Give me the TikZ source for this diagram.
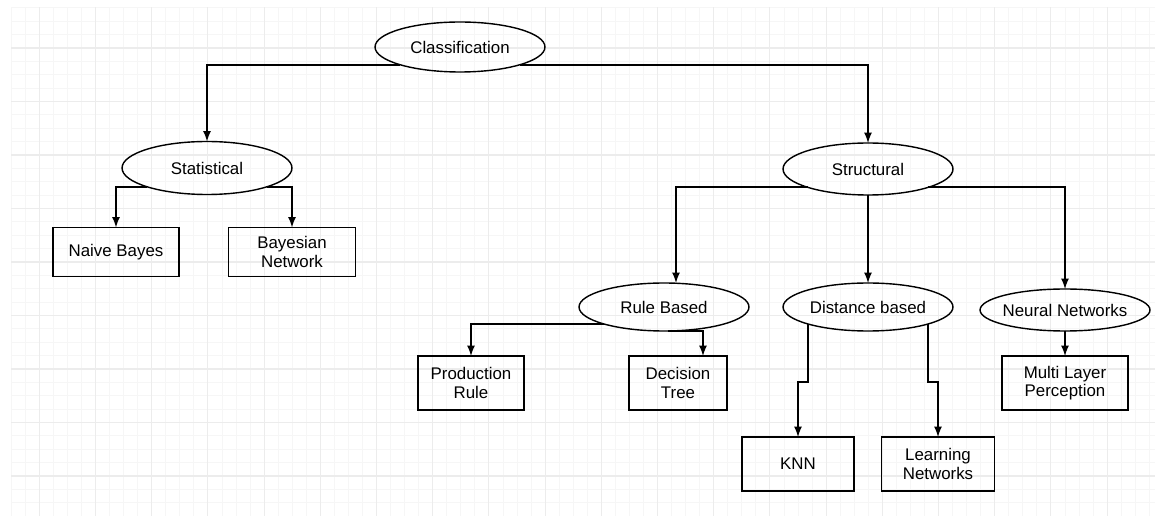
\documentclass[tikz,border=0pt]{standalone}
\usepackage{fontspec}
\setmainfont{Liberation Sans}
\usetikzlibrary{arrows,shapes.geometric}

\begin{document}
\begin{tikzpicture}[x=0.02cm,y=-0.02cm,
  every node/.style={font=\fontsize{9.6}{10.3}\selectfont,align=center,outer sep=0pt},
  oval/.style={ellipse,draw,line width=0.8pt,inner xsep=-5pt,inner ysep=0pt,minimum width=3.4cm,minimum height=1cm},
  box/.style={rectangle,draw,line width=1pt,inner sep=0pt,minimum height=1.08cm},
  conn/.style={-latex,line width=1.05pt},
  minorline/.style={line width=0.5pt,gray!7},
  majorline/.style={line width=0.6pt,gray!15}]
\useasboundingbox (0,0) rectangle (1155,516);
% grid
\begin{scope}
\clip (11,7) rectangle (1155,516);
\foreach \i in {0,...,84} \draw[minorline] ({-16.9+14.05*\i},7) -- ({-16.9+14.05*\i},516);
\foreach \j in {0,...,39} \draw[minorline] (11,{-5.5+13.375*\j}) -- (1155,{-5.5+13.375*\j});
\foreach \i in {0,...,21} \draw[majorline] ({-16.9+56.2*\i},7) -- ({-16.9+56.2*\i},516);
\foreach \j in {0,...,10} \draw[majorline] (11,{-5.5+53.5*\j}) -- (1155,{-5.5+53.5*\j});
\end{scope}

\node[oval] (cls) at (460,47) {Classification};
\node[oval,minimum height=1.06cm] (stat) at (207,168) {Statistical};
\node[oval,minimum height=1.04cm] (struc) at (868,169) {Structural};
\node[box,minimum width=2.52cm,minimum height=0.98cm] (nb) at (116,252) {Naive Bayes};
\node[box,minimum width=2.54cm,minimum height=0.98cm] (bn) at (292,252) {Bayesian\\Network};
\node[oval,minimum height=0.96cm] (rule) at (664,307) {Rule Based};
\node[oval,minimum height=0.96cm] (dist) at (868,307) {Distance based};
\node[oval,minimum height=0.84cm] (neur) at (1065,310) {Neural Networks};
\node[box,minimum width=2.12cm] (prod) at (471,383) {Production\\Rule};
\node[box,minimum width=1.96cm] (dtree) at (678,383) {Decision\\Tree};
\node[box,minimum width=2.52cm] (mlp) at (1065,383) {Multi Layer\\Perception};
\node[box,minimum width=2.24cm] (knn) at (798,464) {KNN};
\node[box,minimum width=2.26cm] (learn) at (938,464) {Learning\\Networks};

\draw[conn] (cls.south west) -| (stat);
\draw[conn] (cls.south east) -| (struc);
\draw[conn] (stat.south west) -| (nb);
\draw[conn] (stat.south east) -| (bn);
\draw[conn] (struc.south west) -| ([shift={(12,0)}]rule.north);
\draw[conn] (struc) -- (dist);
\draw[conn] (struc.south east) -| (neur);
\draw[conn] (rule.south west) -| (prod);
\draw[conn] (rule.-80) -| ([shift={(25,0)}]dtree.north);
\draw[conn] (dist.south west) -- ++(0,58) -| (knn);
\draw[conn] (dist.south east) -- ++(0,58) -| (learn);
\draw[conn] (neur) -- (mlp);
\end{tikzpicture}
\end{document}
